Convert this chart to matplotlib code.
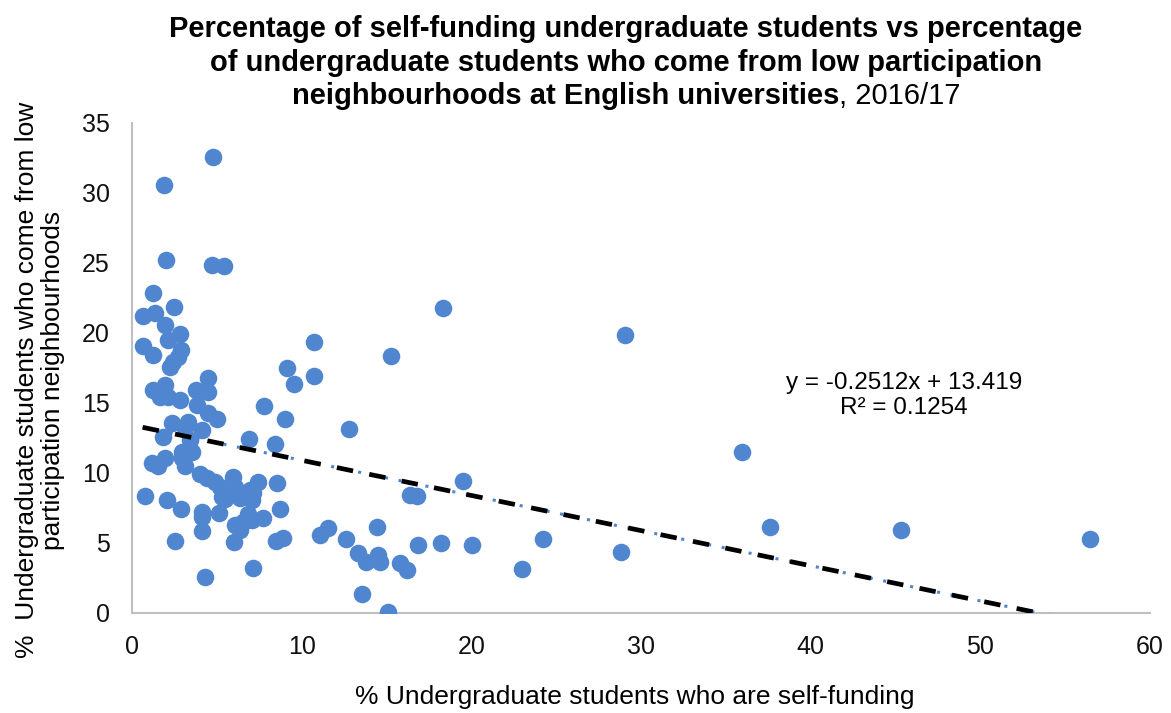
import numpy as np
from matplotlib import pyplot as plt

# % self-funding (x) vs % from low participation neighbourhoods (y)
self_funding = [
    4.75, 1.89, 1.98, 4.69, 5.42, 1.26, 2.5, 0.67, 1.36, 1.94,
    2.83, 2.14, 0.63, 2.89, 1.26, 2.73, 2.44, 2.24, 4.5, 1.26,
    1.94, 1.65, 2.14, 2.83, 3.77, 4.5, 3.81, 4.5, 5.0, 2.34,
    3.32, 4.1, 1.85, 3.12, 3.42, 3.52, 2.93, 2.93, 1.94, 1.16,
    1.55, 3.12, 4.0, 4.4, 4.89, 5.19, 5.97, 6.07, 6.95, 7.44,
    8.53, 5.58, 6.36, 5.48, 7.05, 7.15, 0.77, 2.04, 2.89, 4.1,
    4.1, 5.15, 8.7, 7.74, 7.05, 6.56, 6.07, 6.36, 4.1, 11.1,
    8.5, 8.92, 2.53, 6.01, 7.15, 4.3, 10.74, 15.26, 9.12, 10.74,
    9.55, 7.78, 9.04, 12.81, 6.91, 8.43, 11.53, 12.59, 13.34, 14.42,
    13.77, 14.48, 14.61, 15.79, 16.22, 13.53, 15.07, 18.31, 29.05, 19.49,
    16.38, 16.78, 16.87, 18.21, 20.02, 24.2, 22.96, 28.82, 35.95, 37.6,
    45.3, 56.45, 6.85, 5.3,
]
low_participation = [
    32.55, 30.55, 25.19, 24.86, 24.79, 22.88, 21.84, 21.2, 21.4, 20.6,
    19.9, 19.5, 19.1, 18.8, 18.4, 18.3, 17.95, 17.6, 16.76, 15.9,
    16.3, 15.45, 15.45, 15.2, 15.9, 15.76, 14.86, 14.26, 13.86, 13.55,
    13.67, 13.1, 12.6, 13.2, 12.36, 11.5, 11.5, 11.05, 11.1, 10.7,
    10.5, 10.5, 9.93, 9.62, 9.38, 9.0, 9.74, 9.02, 8.79, 9.38,
    9.26, 8.55, 8.19, 8.12, 8.07, 8.55, 8.36, 8.07, 7.43, 7.19,
    6.84, 7.12, 7.43, 6.76, 6.64, 6.52, 6.29, 5.93, 5.88, 5.6,
    5.16, 5.33, 5.16, 5.09, 3.19, 2.55, 19.38, 18.38, 17.48, 16.93,
    16.36, 14.79, 13.86, 13.14, 12.4, 12.05, 6.1, 5.29, 4.26, 6.12,
    3.67, 4.14, 3.67, 3.55, 3.07, 1.36, 0.1, 21.76, 19.86, 9.43,
    8.43, 8.36, 4.86, 4.98, 4.86, 5.29, 3.14, 4.38, 11.5, 6.14,
    5.93, 5.29, 7.1, 8.3,
]

slope = -0.2512
intercept = 13.419

x_ticks = [0, 10, 20, 30, 40, 50, 60]
y_ticks = [0, 5, 10, 15, 20, 25, 30, 35]

plt.rcParams['font.family'] = ['Liberation Sans', 'DejaVu Sans']
blue = '#4F86CF'

fig = plt.figure(figsize=(11.71, 7.13), dpi=100)
ax = fig.add_axes([0.1127, 0.1403, 0.8695, 0.6872])

ax.scatter(self_funding, low_participation, s=160, color=blue, zorder=3,
           linewidths=0)

# trendline, dotted blue under black dashes
tx = np.array([min(self_funding), max(self_funding)])
ty = slope * tx + intercept
ax.plot(tx, ty, color=blue, lw=2.2, linestyle=(0, (1, 3.5)), zorder=4)
ax.plot(tx, ty, color='black', lw=3.4, linestyle=(0, (3.5, 3.5)), zorder=5)

ax.text(45.5, 15.55, 'y = -0.2512x + 13.419\nR\u00b2 = 0.1254', ha='center',
        va='center', fontsize=17.5, linespacing=1.15)

ax.set_xlim(0, 60)
ax.set_ylim(0, 35)
ax.set_xticks(x_ticks)
ax.set_yticks(y_ticks)
ax.tick_params(length=0, labelsize=18, colors='#111111')
ax.tick_params(axis='x', pad=16)
ax.tick_params(axis='y', pad=16)
for s in ['top', 'right']:
    ax.spines[s].set_visible(False)
for s in ['left', 'bottom']:
    ax.spines[s].set_color('#BFBFBF')
    ax.spines[s].set_linewidth(1.5)

fig.text(0.5418, 1 - 697 / 713, '% Undergraduate students who are self-funding',
         ha='center', va='center', fontsize=19)
fig.text(0.034, 1 - 380 / 713, '%  Undergraduate students who come from low\n'
         'participation neighbourhoods', rotation=90, ha='center',
         va='center', fontsize=19, linespacing=1.1)

# title, last line mixes bold and normal
cx = 626 / 1171
fs_title = 21
fig.text(cx, 1 - 29 / 713, 'Percentage of self-funding undergraduate students vs percentage',
         ha='center', va='center', fontsize=fs_title, fontweight='bold')
fig.text(cx, 1 - 63 / 713, 'of undergraduate students who come from low participation',
         ha='center', va='center', fontsize=fs_title, fontweight='bold')
t1 = fig.text(0, 1 - 96 / 713, 'neighbourhoods at English universities',
              ha='left', va='center', fontsize=fs_title, fontweight='bold')
t2 = fig.text(0, 1 - 96 / 713, ', 2016/17', ha='left', va='center', fontsize=fs_title)
fig.canvas.draw()
r = fig.canvas.get_renderer()
w1 = t1.get_window_extent(r).width / fig.bbox.width
w2 = t2.get_window_extent(r).width / fig.bbox.width
x0 = cx - (w1 + w2) / 2
t1.set_x(x0)
t2.set_x(x0 + w1)

fig.savefig('out.png', dpi=100)
